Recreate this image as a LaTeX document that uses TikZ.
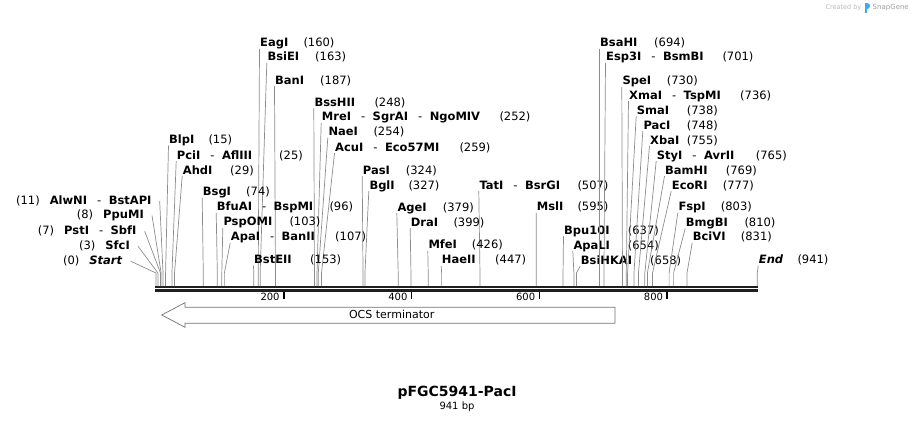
\documentclass[tikz,border=0pt]{standalone}
\usepackage{fontspec}
\setmainfont{DejaVu Sans}
\newcommand\enzsep{\mdseries\hspace{10pt}-\hspace{7.5pt}\bfseries}
\newcommand\bpx[1]{156+0.639*#1}
% right-side enzyme: id, label x, centre y, label, number x, number, position
\newcommand\enz[7]{%
  \node[lbl] (#1) at (#2,#3+4.2) {#4};
  \node[num] (#1n) at (#5,#3+4.2) {#6};
  \coordinate (#1k) at ({\bpx{#7}},273);
  \coordinate (#1r) at ({\bpx{#7}},286);
  \draw[cut] ([xshift=-0.5pt,yshift=-2pt]#1.base west) -- (#1k) -- (#1r);
}
% left-side enzyme: id, text right end x, centre y, text, position
\newcommand\lenz[5]{%
  \node[lnum] (#1) at (#2,#3+4.2) {#4};
  \coordinate (#1k) at ({\bpx{#5}},273);
  \coordinate (#1r) at ({\bpx{#5}},286);
  \draw[cut] ([xshift=8pt,yshift=3pt]#1.base east) -- (#1k) -- (#1r);
}
\tikzset{
  lbl/.style={anchor=base west, inner sep=0pt, font=\fontsize{11.5}{13}\selectfont\bfseries},
  num/.style={anchor=base west, inner sep=0pt, font=\fontsize{11.5}{13}\selectfont},
  lnum/.style={anchor=base east, inner sep=0pt, font=\fontsize{11.5}{13}\selectfont},
  cut/.style={draw=black!45, line width=0.7pt},
  rul/.style={draw=black!88, line width=2.3pt},
  tickm/.style={draw=black, line width=1.7pt},
  ticklbl/.style={anchor=east, inner sep=0pt, font=\fontsize{10}{11}\selectfont},
}
\begin{document}
\begin{tikzpicture}[x=1pt,y=-1pt]
\useasboundingbox (0,0) rectangle (914,423);

% ruler
\coordinate (r0a) at (155,287);
\coordinate (r1a) at (758,287);
\coordinate (r0b) at (155,290.6);
\coordinate (r1b) at (758,290.6);
\draw[rul] (r0a) -- (r1a);
\draw[rul] (r0b) -- (r1b);

% ticks
\foreach \v/\nm in {200/t2,400/t4,600/t6,800/t8}{
  \coordinate (\nm a) at ({\bpx{\v}},292);
  \coordinate (\nm b) at ({\bpx{\v}},298.5);
  \draw[tickm] (\nm a) -- (\nm b);
  \node[ticklbl] (\nm l) at ({\bpx{\v}-4},296.5) {\v};
}

% left-side labels
\lenz{alw}{151.7}{200}{(11)\hspace{10pt}\textbf{AlwNI}\hspace{10pt}-\hspace{7.5pt}\textbf{BstAPI}}{11}
\lenz{ppu}{144}{214.3}{(8)\hspace{10pt}\textbf{PpuMI}}{8}
\lenz{pst}{136.7}{230}{(7)\hspace{10pt}\textbf{PstI}\hspace{10pt}-\hspace{7.5pt}\textbf{SbfI}}{7}
\lenz{sfc}{130}{245}{(3)\hspace{10pt}\textbf{SfcI}}{3}
\lenz{start}{122.7}{260}{(0)\hspace{10pt}\textbf{\itshape Start}}{0}

% right-side labels
\enz{eag}{260}{42.7}{EagI}{303.3}{(160)}{160}
\enz{bsie}{267.3}{56.7}{BsiEI}{315}{(163)}{163}
\enz{ban}{275}{80}{BanI}{320}{(187)}{187}
\enz{bss}{314.3}{102}{BssHII}{374.3}{(248)}{248}
\enz{mre}{321.7}{116.7}{MreI\enzsep SgrAI\enzsep NgoMIV}{499.3}{(252)}{252}
\enz{nae}{328.3}{131.7}{NaeI}{373.3}{(254)}{254}
\enz{acu}{335}{147}{AcuI\enzsep Eco57MI}{459.3}{(259)}{259}
\enz{pas}{362.7}{170}{PasI}{405.7}{(324)}{324}
\enz{bgl}{369.3}{185}{BglI}{408.3}{(327)}{327}
\enz{tat}{479.3}{185}{TatI\enzsep BsrGI}{577.3}{(507)}{507}
\enz{age}{397.3}{207}{AgeI}{442.7}{(379)}{379}
\enz{dra}{410.7}{222}{DraI}{453.3}{(399)}{399}
\enz{mfe}{428.3}{244.7}{MfeI}{471.7}{(426)}{426}
\enz{hae}{441.7}{259.7}{HaeII}{495}{(447)}{447}
\enz{msl}{536.7}{206.7}{MslI}{577.3}{(595)}{595}
\enz{blp}{169}{139.3}{BlpI}{208.3}{(15)}{15}
\enz{pci}{176.7}{155}{PciI\enzsep AflIII}{279}{(25)}{25}
\enz{ahd}{182.7}{170}{AhdI}{230}{(29)}{29}
\enz{bsg}{202.7}{191.7}{BsgI}{246}{(74)}{74}
\enz{bfu}{216.7}{206.7}{BfuAI\enzsep BspMI}{329.3}{(96)}{96}
\enz{psp}{223.3}{221.7}{PspOMI}{289.3}{(103)}{103}
\enz{apa}{230.7}{236.7}{ApaI\enzsep BanII}{335}{(107)}{107}
\enz{bst}{254}{259.3}{BstEII}{310}{(153)}{153}
\enz{bpu}{564}{230}{Bpu10I}{627.7}{(637)}{637}
\enz{apal}{573.3}{245}{ApaLI}{627.7}{(654)}{654}
\enz{bsih}{580.7}{260}{BsiHKAI}{650}{(658)}{658}
\enz{bsa}{600}{42.7}{BsaHI}{654}{(694)}{694}
\enz{esp}{606}{56.7}{Esp3I\enzsep BsmBI}{722.3}{(701)}{701}
\enz{spe}{622.3}{80.7}{SpeI}{666.7}{(730)}{730}
\enz{xma}{629}{95}{XmaI\enzsep TspMI}{740}{(736)}{736}
\enz{sma}{636.7}{110}{SmaI}{686.7}{(738)}{738}
\enz{pac}{643.3}{125}{PacI}{686.7}{(748)}{748}
\enz{xba}{650}{140}{XbaI}{686.7}{(755)}{755}
\enz{sty}{656.7}{155}{StyI\enzsep AvrII}{755.7}{(765)}{765}
\enz{bam}{665}{170}{BamHI}{725.7}{(769)}{769}
\enz{eco}{671.7}{185}{EcoRI}{722.7}{(777)}{777}
\enz{fsp}{678.3}{206.7}{FspI}{720.7}{(803)}{803}
\enz{bmg}{685.7}{222.3}{BmgBI}{744.3}{(810)}{810}
\enz{bci}{692.7}{236.7}{BciVI}{740.7}{(831)}{831}
\enz{end}{758.7}{259.3}{\itshape End}{797.3}{(941)}{941}

% OCS terminator feature
\draw[draw=black!55, fill=white, line width=0.7pt]
  (161.7,315) -- (185,302.7) -- (185,307.3) -- (615,307.3) -- (615,323.3)
  -- (185,323.3) -- (185,327.3) -- cycle;
\node[inner sep=0pt, font=\fontsize{11}{12}\selectfont] (ocs) at (391.7,314.5) {OCS terminator};

% title
\node[inner sep=0pt, font=\fontsize{14}{16}\selectfont\bfseries] (title) at (457,392.7) {pFGC5941-PacI};
\node[inner sep=0pt, font=\fontsize{10}{11}\selectfont] (len) at (457,407) {941 bp};

% watermark
\node[anchor=east, inner sep=0pt, text=black!28, font=\fontsize{6.5}{7}\selectfont] (cb) at (861.5,7.5) {Created by};
\fill[fill={rgb,255:red,64;green,170;blue,240}] (865,2.5) rectangle (867.3,13);
\fill[fill={rgb,255:red,64;green,170;blue,240}] (867.3,2.5) .. controls (871,2.5) and (871,8.5) .. (867.3,8.5) -- cycle;
\node[anchor=west, inner sep=0pt, text=black!38, font=\fontsize{7}{8}\selectfont] (sg) at (872.5,8) {SnapGene};
\end{tikzpicture}
\end{document}
